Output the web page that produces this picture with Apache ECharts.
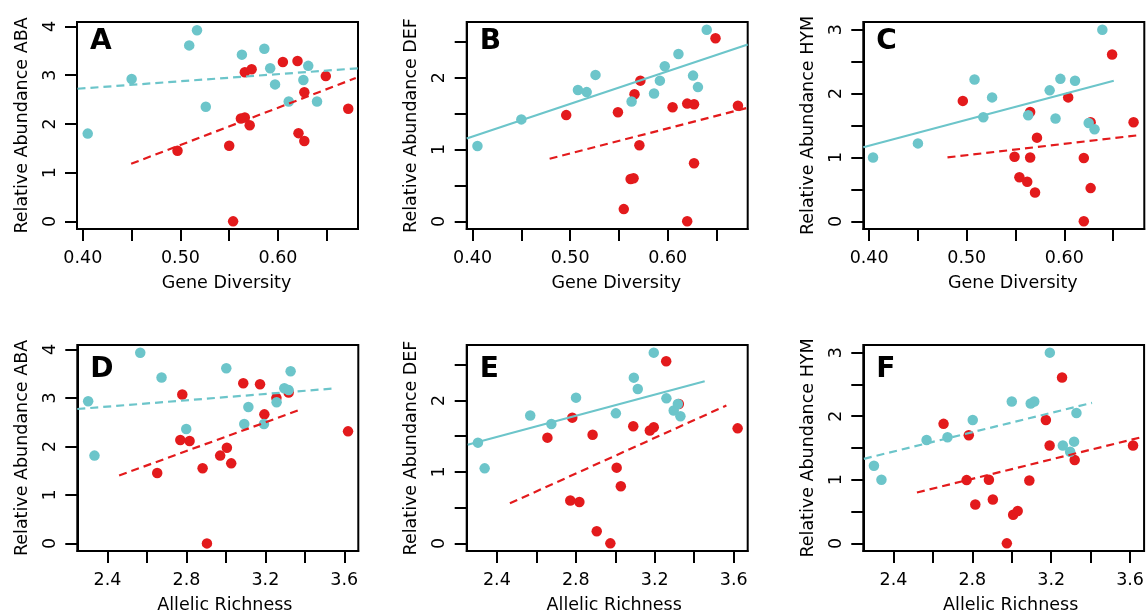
<!DOCTYPE html>
<html>
<head>
<meta charset="utf-8">
<script src="https://cdn.jsdelivr.net/npm/echarts@6/dist/echarts.min.js"></script>
<style>
  html, body { margin: 0; padding: 0; background: #fff; }
  #main { width: 1147px; height: 615px; }
</style>
</head>
<body>
<div id="main"></div>
<script>
// tick values
var geneTicks = [0.40, 0.45, 0.50, 0.55, 0.60, 0.65];
var geneLabels = [0.40, 0.50, 0.60];
var richTicks = [2.4, 2.6, 2.8, 3.0, 3.2, 3.4, 3.6];
var richLabels = [2.4, 2.8, 3.2, 3.6];
var abaTicks = [0, 1, 2, 3, 4];
var defTicks = [0, 0.5, 1, 1.5, 2, 2.5];
var defLabels = [0, 1, 2];
var hymTicks = [0, 0.5, 1, 1.5, 2, 2.5, 3];
var hymLabels = [0, 1, 2, 3];

// A: ABA vs gene diversity
var abaGeneCyan = [[0.405,1.80],[0.450,2.92],[0.517,3.92],[0.509,3.61],[0.526,2.35],[0.563,3.42],[0.586,3.54],[0.592,3.14],[0.597,2.81],[0.611,2.46],[0.631,3.19],[0.626,2.90],[0.640,2.46]];
var abaGeneRed = [[0.554,0],[0.497,1.45],[0.550,1.55],[0.562,2.11],[0.566,2.13],[0.571,1.97],[0.566,3.06],[0.573,3.12],[0.605,3.27],[0.620,3.29],[0.627,2.65],[0.621,1.81],[0.627,1.65],[0.649,2.98],[0.672,2.31]];
var abaGeneCyanFit = [[0.3945,2.72],[0.682,3.14]];
var abaGeneRedFit = [[0.4495,1.18],[0.6797,2.94]];

// B: DEF vs gene diversity
var defGeneCyan = [[0.405,1.05],[0.450,1.42],[0.508,1.83],[0.517,1.80],[0.526,2.04],[0.563,1.67],[0.586,1.78],[0.592,1.96],[0.597,2.16],[0.611,2.33],[0.626,2.03],[0.631,1.87],[0.640,2.67]];
var defGeneRed = [[0.496,1.48],[0.549,1.52],[0.555,0.17],[0.562,0.59],[0.565,0.60],[0.566,1.77],[0.572,1.96],[0.571,1.06],[0.605,1.59],[0.620,1.64],[0.627,1.63],[0.620,0],[0.627,0.81],[0.649,2.55],[0.672,1.61]];
var defGeneCyanFit = [[0.394,1.155],[0.682,2.464]];
var defGeneRedFit = [[0.479,0.872],[0.682,1.582]];

// C: HYM vs gene diversity
var hymGeneCyan = [[0.404,1.0],[0.450,1.22],[0.508,2.22],[0.517,1.63],[0.526,1.94],[0.563,1.66],[0.585,2.05],[0.591,1.61],[0.596,2.23],[0.611,2.20],[0.625,1.54],[0.631,1.44],[0.639,3.0]];
var hymGeneRed = [[0.496,1.885],[0.549,1.01],[0.554,0.69],[0.562,0.62],[0.565,1.0],[0.565,1.71],[0.572,1.31],[0.570,0.45],[0.604,1.94],[0.620,0.99],[0.620,0],[0.627,0.52],[0.627,1.55],[0.649,2.61],[0.671,1.55]];
var hymGeneCyanFit = [[0.394,1.16],[0.6507,2.20]];
var hymGeneRedFit = [[0.4803,1.0],[0.6773,1.35]];

// D: ABA vs allelic richness
var abaRichCyan = [[2.302,2.93],[2.334,1.81],[2.566,3.93],[2.674,3.42],[2.799,2.36],[3.002,3.61],[3.114,2.81],[3.093,2.46],[3.193,2.46],[3.257,2.91],[3.296,3.20],[3.318,3.16],[3.328,3.55]];
var abaRichRed = [[2.904,0],[2.652,1.45],[2.882,1.55],[2.769,2.13],[2.816,2.11],[2.971,1.81],[3.005,1.97],[3.027,1.65],[2.779,3.07],[3.088,3.30],[3.173,3.28],[3.195,2.66],[3.256,3.00],[3.318,3.11],[3.619,2.31]];
var abaRichCyanFit = [[2.247,2.77],[3.536,3.19]];
var abaRichRedFit = [[2.459,1.40],[3.379,2.76]];

// E: DEF vs allelic richness
var defRichCyan = [[2.304,1.41],[2.338,1.05],[2.569,1.79],[2.676,1.67],[2.801,2.04],[3.003,1.82],[3.094,2.32],[3.114,2.16],[3.195,2.67],[3.259,2.03],[3.296,1.86],[3.317,1.95],[3.330,1.78]];
var defRichRed = [[2.656,1.48],[2.782,1.76],[2.772,0.60],[2.818,0.58],[2.885,1.52],[2.906,0.17],[2.975,0],[3.007,1.06],[3.028,0.80],[3.091,1.64],[3.175,1.58],[3.195,1.625],[3.258,2.55],[3.322,1.95],[3.620,1.61]];
var defRichCyanFit = [[2.252,1.38],[3.453,2.27]];
var defRichRedFit = [[2.466,0.56],[3.563,1.93]];

// F: HYM vs allelic richness
var hymRichCyan = [[2.301,1.22],[2.339,1.0],[2.568,1.625],[2.674,1.67],[2.802,1.94],[3.0,2.23],[3.096,2.20],[3.114,2.23],[3.193,3.0],[3.259,1.54],[3.296,1.44],[3.316,1.60],[3.328,2.05]];
var hymRichRed = [[2.654,1.88],[2.782,1.70],[2.771,0.995],[2.815,0.61],[2.884,1.0],[2.904,0.69],[2.975,0],[3.007,0.45],[3.030,0.51],[3.089,0.99],[3.173,1.94],[3.192,1.54],[3.255,2.61],[3.319,1.31],[3.615,1.54]];
var hymRichCyanFit = [[2.250,1.33],[3.407,2.21]];
var hymRichRedFit = [[2.519,0.80],[3.671,1.68]];

var CYAN = '#6cc5ca';
var RED = '#e31a1c';
var FONT = 'DejaVu Sans';

var geneX = { min: 0.394, max: 0.682, ticks: geneTicks, labels: geneLabels, digits: 2, name: 'Gene Diversity', shift: 9 };
var richX = { min: 2.247, max: 3.671, ticks: richTicks, labels: richLabels, digits: 1, name: 'Allelic Richness', shift: 7 };
var abaY = { min: -0.157, max: 4.09, ticks: abaTicks, labels: abaTicks, name: 'Relative Abundance ABA' };
var defY = { min: -0.107, max: 2.777, ticks: defTicks, labels: defLabels, name: 'Relative Abundance DEF' };
var hymY = { min: -0.12, max: 3.12, ticks: hymTicks, labels: hymLabels, name: 'Relative Abundance HYM' };

var panels = [
  { letter: 'A', left: 77, top: 22, height: 207, x: geneX, y: abaY, cyan: abaGeneCyan, red: abaGeneRed, cyanFit: abaGeneCyanFit, redFit: abaGeneRedFit, cyanDash: true },
  { letter: 'B', left: 466.7, top: 22, height: 207, x: geneX, y: defY, cyan: defGeneCyan, red: defGeneRed, cyanFit: defGeneCyanFit, redFit: defGeneRedFit, cyanDash: false },
  { letter: 'C', left: 863.3, top: 22, height: 207, x: geneX, y: hymY, cyan: hymGeneCyan, red: hymGeneRed, cyanFit: hymGeneCyanFit, redFit: hymGeneRedFit, cyanDash: false },
  { letter: 'D', left: 77.3, top: 345, height: 209, x: richX, y: abaY, cyan: abaRichCyan, red: abaRichRed, cyanFit: abaRichCyanFit, redFit: abaRichRedFit, cyanDash: true },
  { letter: 'E', left: 466.7, top: 345, height: 209, x: richX, y: defY, cyan: defRichCyan, red: defRichRed, cyanFit: defRichCyanFit, redFit: defRichRedFit, cyanDash: false },
  { letter: 'F', left: 863.3, top: 345, height: 209, x: richX, y: hymY, cyan: hymRichCyan, red: hymRichRed, cyanFit: hymRichCyanFit, redFit: hymRichRedFit, cyanDash: true }
];

var grids = [], xAxes = [], yAxes = [], series = [], letters = [];

panels.forEach(function (p, i) {
  grids.push({
    left: p.left, top: p.top, width: 281, height: p.height,
    show: true, borderColor: '#000', borderWidth: 2, backgroundColor: 'transparent'
  });
  xAxes.push({
    gridIndex: i, type: 'value', min: p.x.min, max: p.x.max,
    name: p.x.name, nameLocation: 'middle', nameGap: 45,
    nameTextStyle: { fontFamily: FONT, fontSize: 17.5, color: '#000', padding: [0, 0, 0, 2 * p.x.shift] },
    axisLine: { show: true, onZero: false, lineStyle: { color: '#000', width: 2 } },
    axisTick: { show: true, length: 12, customValues: p.x.ticks, lineStyle: { color: '#000', width: 2 } },
    axisLabel: {
      customValues: p.x.labels, margin: 20, fontFamily: FONT, fontSize: 17.5, color: '#000',
      formatter: (function (d) { return function (v) { return v.toFixed(d); }; })(p.x.digits)
    },
    splitLine: { show: false }
  });
  yAxes.push({
    gridIndex: i, type: 'value', min: p.y.min, max: p.y.max,
    name: p.y.name, nameLocation: 'middle', nameGap: 46, nameRotate: 90,
    nameTextStyle: { fontFamily: FONT, fontSize: 17.5, color: '#000' },
    axisLine: { show: true, onZero: false, lineStyle: { color: '#000', width: 2 } },
    axisTick: { show: true, length: 12, customValues: p.y.ticks, lineStyle: { color: '#000', width: 2 } },
    axisLabel: {
      customValues: p.y.labels, margin: 18, rotate: 90, fontFamily: FONT, fontSize: 17.5, color: '#000',
      formatter: function (v) { return String(Math.round(v)); }
    },
    splitLine: { show: false }
  });
  series.push({
    type: 'scatter', xAxisIndex: i, yAxisIndex: i, data: p.red,
    symbol: 'circle', symbolSize: 10.5, itemStyle: { color: RED, opacity: 1 }, z: 2, silent: true
  });
  series.push({
    type: 'scatter', xAxisIndex: i, yAxisIndex: i, data: p.cyan,
    symbol: 'circle', symbolSize: 10.5, itemStyle: { color: CYAN, opacity: 1 }, z: 3, silent: true
  });
  series.push({
    type: 'line', xAxisIndex: i, yAxisIndex: i, data: p.cyanFit, showSymbol: false, symbol: 'none',
    lineStyle: { color: CYAN, width: 2.2, type: p.cyanDash ? [8, 5] : 'solid' }, z: 4, silent: true, animation: false
  });
  series.push({
    type: 'line', xAxisIndex: i, yAxisIndex: i, data: p.redFit, showSymbol: false, symbol: 'none',
    lineStyle: { color: RED, width: 2.2, type: [8, 5] }, z: 4, silent: true, animation: false
  });
  letters.push({
    type: 'text', left: p.left + 13, top: p.top + (p.top > 100 ? 11 : 6), z: 10,
    style: { text: p.letter, font: 'bold 28px "' + FONT + '"', fill: '#000' }
  });
});

var chart = echarts.init(document.getElementById('main'), null, { renderer: 'canvas' });
chart.setOption({
  animation: false,
  backgroundColor: '#fff',
  textStyle: { fontFamily: FONT },
  grid: grids,
  xAxis: xAxes,
  yAxis: yAxes,
  series: series,
  graphic: letters
});
</script>
</body>
</html>
